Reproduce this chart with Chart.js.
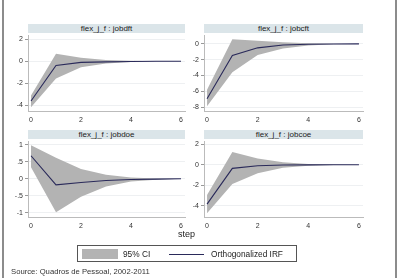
<!DOCTYPE html>
<html>
<head>
<meta charset="utf-8">
<script src="https://cdn.jsdelivr.net/npm/chart.js@4.4.0/dist/chart.umd.min.js"></script>
<style>
  body { margin: 0; background: #fff; font-family: "Liberation Sans", Arial, sans-serif; }
  #frame { position: relative; width: 406px; height: 278px; overflow: hidden; }
  .vline { position: absolute; top: 0; width: 2px; height: 278px; background: #8c8c8c; }
  .strip { position: absolute; height: 9px; background: #dbe5e9; font-size: 8px; line-height: 9px; text-align: center; color: #222; }
  .panel { position: absolute; }
  #step { position: absolute; left: 178px; top: 229px; font-size: 9px; color: #222; }
  #legend { position: absolute; left: 77px; top: 245px; width: 220px; height: 17px; border: 1px solid #555; box-sizing: border-box; font-size: 8.3px; color: #222; }
  #legend .sw { position: absolute; left: 4px; top: 3px; width: 36px; height: 10px; background: #b3b3b3; }
  #legend .ln { position: absolute; left: 91px; top: 8px; width: 35px; height: 1px; background: #2a2a5a; }
  #legend .t1 { position: absolute; left: 45px; top: 3px; line-height: 10px; }
  #legend .t2 { position: absolute; left: 133px; top: 3px; line-height: 10px; }
  #source { position: absolute; left: 11px; top: 267px; font-size: 7.7px; color: #333; }
</style>
</head>
<body>
<div id="frame">
  <div class="vline" style="left:2px"></div>
  <div class="vline" style="left:395px"></div>
  <canvas id="c1" class="panel" style="left:5px;top:29px" width="185" height="97"></canvas>
  <canvas id="c2" class="panel" style="left:181px;top:29px" width="187" height="97"></canvas>
  <canvas id="c3" class="panel" style="left:5px;top:135px" width="185" height="97"></canvas>
  <canvas id="c4" class="panel" style="left:181px;top:135px" width="187" height="97"></canvas>
  <div class="strip" style="left:28px;top:24px;width:157px">flex_j_f : jobdft</div>
  <div class="strip" style="left:204px;top:24px;width:159px">flex_j_f : jobcft</div>
  <div class="strip" style="left:28px;top:130px;width:157px">flex_j_f : jobdoe</div>
  <div class="strip" style="left:204px;top:130px;width:159px">flex_j_f : jobcoe</div>
  <div id="step">step</div>
  <div id="legend">
    <div class="sw"></div><div class="t1">95% CI</div>
    <div class="ln"></div><div class="t2">Orthogonalized IRF</div>
  </div>
  <div id="source">Source: Quadros de Pessoal, 2002-2011</div>
</div>
<script>
const steps = [0, 1, 2, 3, 4, 5, 6];
const xTicks = [0, 2, 4, 6];

const jobdftIrf   = [-3.6, -0.38, -0.1, -0.05, -0.02, 0, 0];
const jobdftUpper = [-3.1, 0.68, 0.32, 0.12, 0.04, 0.01, 0];
const jobdftLower = [-4.15, -1.55, -0.53, -0.2, -0.07, -0.02, 0];
const jobdftTicks = [-4, -2, 0, 2];

const jobcftIrf   = [-6.95, -1.48, -0.5, -0.15, -0.05, -0.02, 0];
const jobcftUpper = [-5.8, 0.58, 0.4, 0.2, 0.07, 0.02, 0];
const jobcftLower = [-7.9, -3.58, -1.4, -0.58, -0.2, -0.06, 0];
const jobcftTicks = [-8, -6, -4, -2, 0];

const jobdoeIrf   = [0.68, -0.18, -0.11, -0.05, -0.02, -0.01, 0];
const jobdoeUpper = [0.99, 0.62, 0.29, 0.12, 0.04, 0.01, 0];
const jobdoeLower = [0.34, -0.99, -0.53, -0.23, -0.08, -0.03, 0];
const jobdoeTicks = [-1, -0.5, 0, 0.5, 1];

const jobcoeIrf   = [-3.84, -0.35, -0.1, -0.03, -0.01, 0, 0];
const jobcoeUpper = [-2.95, 1.24, 0.6, 0.25, 0.08, 0.02, 0];
const jobcoeLower = [-4.73, -1.87, -0.83, -0.3, -0.1, -0.03, 0];
const jobcoeTicks = [-4, -2, 0, 2];

const pts = arr => arr.map((v, i) => ({ x: steps[i], y: v }));
const fmt = v => {
  if (v === 0) return '0';
  return String(v).replace(/^(-?)0\./, '$1.');
};

function makePanel(id, irf, upper, lower, yTicks, yMin, yMax) {
  new Chart(document.getElementById(id), {
    type: 'line',
    data: {
      datasets: [
        // index 0 is drawn last, so the IRF line sits on top of the band
        { data: pts(irf), borderColor: '#2a2a5a', borderWidth: 1.1, pointRadius: 0, fill: false, tension: 0 },
        { data: pts(upper), borderWidth: 0, pointRadius: 0, fill: '+1', backgroundColor: '#b3b3b3', tension: 0 },
        { data: pts(lower), borderWidth: 0, pointRadius: 0, fill: false, tension: 0 }
      ]
    },
    options: {
      responsive: false,
      animation: false,
      events: [],
      layout: { padding: { right: 5, top: 0, bottom: 0, left: 0 } },
      plugins: { legend: { display: false }, tooltip: { enabled: false } },
      scales: {
        x: {
          type: 'linear', min: -0.12, max: 6.16,
          afterBuildTicks: s => { s.ticks = xTicks.map(v => ({ value: v })); },
          afterFit: s => { s.height = 15; },
          grid: { display: false, drawTicks: true, tickLength: 3, tickColor: '#999' },
          border: { color: '#bbb' },
          ticks: { font: { size: 7, family: 'Liberation Sans' }, color: '#333', padding: 2, maxRotation: 0 }
        },
        y: {
          min: yMin, max: yMax,
          afterBuildTicks: s => { s.ticks = yTicks.map(v => ({ value: v })); },
          afterFit: s => { s.width = 23; },
          grid: { color: '#eef0f2', tickLength: 3, tickColor: '#999' },
          border: { color: '#bbb' },
          ticks: { font: { size: 7, family: 'Liberation Sans' }, color: '#333', padding: 2, callback: v => fmt(v) }
        }
      }
    }
  });
}

makePanel('c1', jobdftIrf, jobdftUpper, jobdftLower, jobdftTicks, -4.5, 2.36);
makePanel('c2', jobcftIrf, jobcftUpper, jobcftLower, jobcftTicks, -8.5, 1.1);
makePanel('c3', jobdoeIrf, jobdoeUpper, jobdoeLower, jobdoeTicks, -1.13, 1.11);
makePanel('c4', jobcoeIrf, jobcoeUpper, jobcoeLower, jobcoeTicks, -5.1, 2.3);
</script>
</body>
</html>
